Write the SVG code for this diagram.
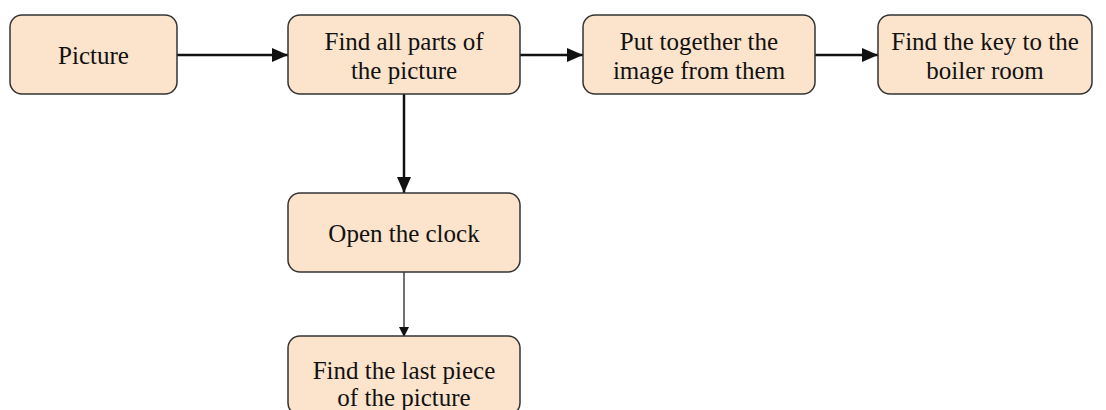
<svg xmlns="http://www.w3.org/2000/svg" width="1106" height="410" viewBox="0 0 1106 410">
<style>
.box{fill:#fce4cc;stroke:#333;stroke-width:1.5}
.t{font-family:"Liberation Serif",serif;font-size:25px;fill:#111;text-anchor:middle}
.thick{stroke:#111;stroke-width:2.5;fill:none}
.thin{stroke:#111;stroke-width:1.2;fill:none}
</style>
<defs>
<marker id="ah" markerWidth="10" markerHeight="10" refX="9" refY="5" orient="auto" markerUnits="userSpaceOnUse" viewBox="0 0 10 10">
<path d="M0,0 L10,5 L0,10 z" fill="#111"/>
</marker>
<marker id="ahBig" viewBox="0 0 16 14" refX="16" refY="7" markerWidth="16" markerHeight="14" orient="auto" markerUnits="userSpaceOnUse">
<path d="M0,0 L16,7 L0,14 z" fill="#111"/>
</marker>
</defs>
<g id="connectors">
<path class="thick" d="M177,55 H288" marker-end="url(#ahBig)"/>
<path class="thick" d="M520,55 H583" marker-end="url(#ahBig)"/>
<path class="thick" d="M815,55 H878" marker-end="url(#ahBig)"/>
<path class="thick" d="M404,94 V193" marker-end="url(#ahBig)"/>
<path class="thin" d="M404,272 V336" marker-end="url(#ah)"/>
</g>
<g id="picture">
<rect class="box" x="10" y="15" width="167" height="79" rx="12"/>
<text class="t" x="93.5" y="64">Picture</text>
</g>
<g id="find-all">
<rect class="box" x="288" y="15" width="232" height="79" rx="12"/>
<text class="t" x="404" y="50">Find all parts of</text>
<text class="t" x="404" y="79">the picture</text>
</g>
<g id="put-together">
<rect class="box" x="583" y="15" width="232" height="79" rx="12"/>
<text class="t" x="699" y="50">Put together the</text>
<text class="t" x="699" y="79">image from them</text>
</g>
<g id="find-key">
<rect class="box" x="878" y="15" width="214" height="79" rx="12"/>
<text class="t" x="985" y="50">Find the key to the</text>
<text class="t" x="985" y="79">boiler room</text>
</g>
<g id="open-clock">
<rect class="box" x="288" y="193" width="232" height="79" rx="12"/>
<text class="t" x="404" y="242">Open the clock</text>
</g>
<g id="last-piece">
<rect class="box" x="288" y="336" width="232" height="79" rx="12"/>
<text class="t" x="404" y="379">Find the last piece</text>
<text class="t" x="404" y="406">of the picture</text>
</g>
</svg>
